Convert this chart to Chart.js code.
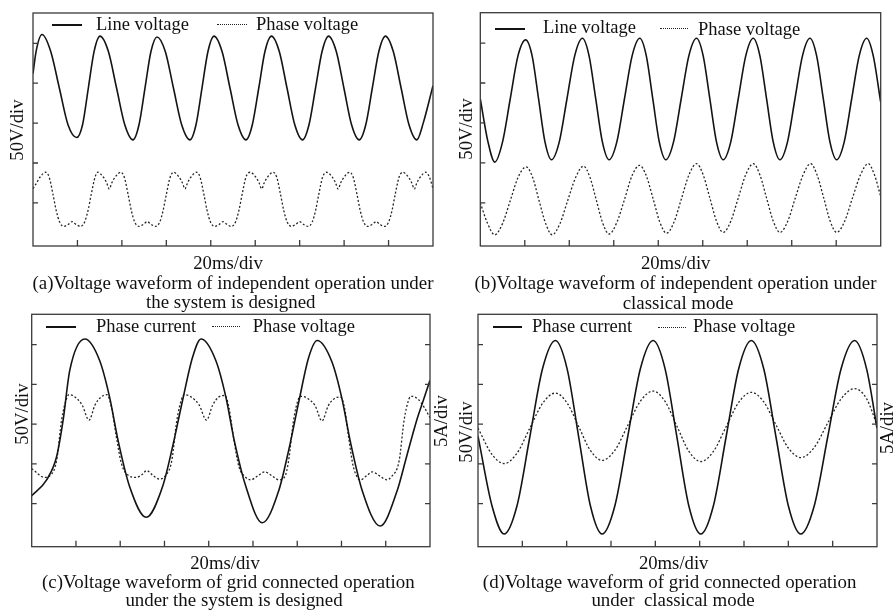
<!DOCTYPE html>
<html>
<head>
<meta charset="utf-8">
<title>Voltage waveforms</title>
<script src="https://cdn.jsdelivr.net/npm/chart.js@4.4.1/dist/chart.umd.min.js"></script>
<style>
html, body { margin: 0; padding: 0; background: #fff; overflow: hidden; }
#page { position: relative; width: 896px; height: 612px; overflow: hidden; font-family: 'Liberation Serif', 'Times New Roman', serif; color: #111; }
canvas { position: absolute; }
.key-line { position: absolute; height: 0; border-top: 2px solid #141414; }
.key-dots { position: absolute; height: 0; border-top: 1px dotted #222; }
.key-text { position: absolute; font-size: 18.5px; line-height: 18px; white-space: nowrap; }
.caption { position: absolute; width: 600px; text-align: center; font-size: 18.9px; line-height: 18.5px; white-space: pre; }
.x-title { position: absolute; width: 200px; height: 20px; line-height: 20px; text-align: center; font-size: 18.7px; white-space: nowrap; }
.y-title { position: absolute; width: 80px; height: 20px; line-height: 20px; text-align: center; font-size: 18.7px; white-space: nowrap; transform: rotate(-90deg); }
</style>
</head>
<body>
<div id="page">
  <canvas id="chartA" width="448" height="274" style="left:0;top:0"></canvas>
  <canvas id="chartB" width="448" height="275" style="left:448px;top:0"></canvas>
  <canvas id="chartC" width="460" height="275" style="left:0;top:300px"></canvas>
  <canvas id="chartD" width="460" height="275" style="left:448px;top:300px"></canvas>

  <!-- axis titles (the 5A/div ones read upwards too, like the original) -->
  <div class="y-title" style="left:-23px;top:119.5px">50V/div</div>
  <div class="x-title" style="left:128px;top:252.5px">20ms/div</div>
  <div class="y-title" style="left:425.5px;top:118.5px">50V/div</div>
  <div class="x-title" style="left:575.7px;top:253px">20ms/div</div>
  <div class="y-title" style="left:-18.3px;top:404px">50V/div</div>
  <div class="y-title" style="left:400.8px;top:411px">5A/div</div>
  <div class="x-title" style="left:125px;top:553.3px">20ms/div</div>
  <div class="y-title" style="left:425.8px;top:422px">50V/div</div>
  <div class="y-title" style="left:847.2px;top:418px">5A/div</div>
  <div class="x-title" style="left:573.7px;top:553.3px">20ms/div</div>

  <!-- legends sit inside the plot boxes, as on the scope captures -->
  <div class="key-line" style="left:52px;top:24px;width:30px"></div>
  <div class="key-text" style="left:96px;top:15.3px">Line voltage</div>
  <div class="key-dots" style="left:217px;top:24px;width:30px"></div>
  <div class="key-text" style="left:256px;top:15.3px">Phase voltage</div>

  <div class="key-line" style="left:494.7px;top:28.3px;width:30px"></div>
  <div class="key-text" style="left:543px;top:17.7px">Line voltage</div>
  <div class="key-dots" style="left:659.7px;top:28px;width:28.3px"></div>
  <div class="key-text" style="left:698px;top:19.7px">Phase voltage</div>

  <div class="key-line" style="left:46px;top:325.7px;width:30px"></div>
  <div class="key-text" style="left:96px;top:317px">Phase current</div>
  <div class="key-dots" style="left:211.7px;top:326.2px;width:28.3px"></div>
  <div class="key-text" style="left:252.7px;top:317px">Phase voltage</div>

  <div class="key-line" style="left:493px;top:326px;width:29px"></div>
  <div class="key-text" style="left:532px;top:317px">Phase current</div>
  <div class="key-dots" style="left:658px;top:326.5px;width:28px"></div>
  <div class="key-text" style="left:693px;top:317px">Phase voltage</div>

  <div class="caption" style="left:-67px;top:274px">(a)Voltage waveform of independent operation under</div>
  <div class="caption" style="left:-69.2px;top:293.4px">the system is designed</div>
  <div class="caption" style="left:375.5px;top:274px">(b)Voltage waveform of independent operation under</div>
  <div class="caption" style="left:378px;top:294px">classical mode</div>
  <div class="caption" style="left:-71.7px;top:573px">(c)Voltage waveform of grid connected operation</div>
  <div class="caption" style="left:-66px;top:591.4px">under the system is designed</div>
  <div class="caption" style="left:369.7px;top:573px">(d)Voltage waveform of grid connected operation</div>
  <div class="caption" style="left:373px;top:590.5px">under  classical mode</div>
</div>

<script>
// tick marks: 20 ms/div across, 50 V/div and 5 A/div up
var xTicks = [20, 40, 60, 80, 100, 120, 140, 160];
var voltTicks = [50, 100, 150, 200, 250];
var ampTicks = [-10, -5, 0, 5, 10];

// (a) independent operation, designed system (time ms, volts)
var aLineT = [0, 1.4, 4.05, 7.95, 11.85, 15.75, 19.67, 22.3, 24.9, 27.5, 30.15,
  33.9, 37.6, 41.3, 45.0, 47.7, 50.4, 53.1, 55.8, 59.5, 63.2, 66.9, 70.65,
  73.35, 76.05, 78.75, 81.45, 85.05, 88.65, 92.25, 95.85, 98.7, 101.6, 104.4, 107.3,
  110.8, 114.3, 117.8, 121.3, 124.2, 127.15, 130.1, 133.0, 136.45, 139.9, 143.35, 146.8,
  149.75, 152.7, 155.65, 158.6, 162.1, 165.65, 169.2, 172.7, 175.6, 180];
var aLineV = [212, 240, 261, 240, 194, 148, 132, 148, 194, 240, 259,
  240, 194, 148, 129, 148, 194, 240, 258, 240, 194, 148, 129,
  148, 194, 240, 259, 240, 194, 148, 129, 148, 194, 240, 259,
  240, 194, 148, 129, 148, 194, 240, 259, 240, 194, 148, 129,
  148, 194, 240, 259, 240, 194, 148, 129, 150, 197];
var aPhaseT = [0, 1.63, 3.2, 5.68, 7.25, 9.05, 10.4, 11.98, 13.87, 15.8, 17.6, 19.4, 21.34, 23.23, 24.8, 26.15, 27.95,
  29.12, 31.6, 33.17, 34.3, 35.43, 37.0, 39.48, 41.05, 42.85, 44.2, 45.78, 47.67, 49.6, 51.4, 53.2, 55.14, 57.03, 58.6, 59.95, 61.75,
  63.22, 65.7, 67.27, 68.4, 69.53, 71.1, 73.58, 75.15, 76.95, 78.3, 79.88, 81.77, 83.7, 85.5, 87.3, 89.24, 91.13, 92.7, 94.05, 95.85,
  97.72, 100.2, 101.77, 102.9, 104.03, 105.6, 108.08, 109.65, 111.45, 112.8, 114.38, 116.27, 118.2, 120.0, 121.8, 123.74, 125.63, 127.2, 128.55, 130.35,
  132.12, 134.6, 136.17, 137.3, 138.43, 140.0, 142.48, 144.05, 145.85, 147.2, 148.78, 150.67, 152.6, 154.4, 156.2, 158.14, 160.03, 161.6, 162.95, 164.75,
  166.42, 168.9, 170.47, 171.6, 172.73, 174.3, 176.78, 178.35, 180];
var aPhaseV = [68, 75, 82.5, 88.4, 82.5, 60, 41, 26, 20.6, 23, 26.5, 23, 20.6, 26, 41, 60, 82.5,
  88.4, 82.5, 75, 67.5, 75, 82.5, 88.4, 82.5, 60, 41, 26, 20.6, 23, 26.5, 23, 20.6, 26, 41, 60, 82.5,
  88.4, 82.5, 75, 67.5, 75, 82.5, 88.4, 82.5, 60, 41, 26, 20.6, 23, 26.5, 23, 20.6, 26, 41, 60, 82.5,
  88.4, 82.5, 75, 67.5, 75, 82.5, 88.4, 82.5, 60, 41, 26, 20.6, 23, 26.5, 23, 20.6, 26, 41, 60, 82.5,
  88.4, 82.5, 75, 67.5, 75, 82.5, 88.4, 82.5, 60, 41, 26, 20.6, 23, 26.5, 23, 20.6, 26, 41, 60, 82.5,
  88.4, 82.5, 75, 67.5, 75, 82.5, 88.4, 82.5, 68];

// (b) independent operation, classical mode
var bLineT = [0, 3.4, 6.5, 9.98, 13.45, 16.93, 20.4, 23.3, 26.2, 29.1, 32.0, 35.48, 38.95, 42.43, 45.9,
  48.9, 51.9, 54.9, 57.9, 61.35, 64.8, 68.25, 71.7, 74.63, 77.55, 80.48, 83.4, 86.85, 90.3, 93.75, 97.2,
  100.2, 103.2, 106.2, 109.2, 112.58, 115.95, 119.33, 122.7, 125.7, 128.7, 131.7, 134.7, 138.08, 141.45, 144.83, 148.2,
  151.2, 154.2, 157.2, 160.2, 163.58, 166.95, 170.33, 173.7, 176.65, 180];
var bLineV = [180, 127, 101, 126, 180, 234, 254, 234, 180, 126, 104, 126, 180, 234, 256,
  234, 180, 126, 104, 126, 180, 234, 256, 234, 180, 126, 104, 126, 180, 234, 256,
  234, 180, 126, 104, 126, 180, 234, 256, 234, 180, 126, 104, 126, 180, 234, 256,
  234, 180, 126, 104, 126, 180, 234, 256, 234, 176];
var bPhaseT = [0, 3.3, 6.5, 9.98, 13.5, 17.0, 20.6, 23.5, 26.4, 29.4, 32.3, 35.8, 39.3, 42.9, 46.4,
  49.3, 52.1, 55.0, 57.9, 61.3, 64.8, 68.2, 71.6, 74.6, 77.7, 80.7, 83.7, 87.1, 90.4, 93.8, 97.2,
  100.2, 103.2, 106.2, 109.2, 112.6, 115.95, 119.3, 122.7, 125.7, 128.7, 131.7, 134.7, 138.2, 141.6, 145.1, 148.5,
  151.4, 154.4, 157.3, 160.2, 163.8, 167.3, 170.9, 174.4, 177.2, 180];
var bPhaseV = [50, 24, 10, 24, 53, 82, 95, 82, 53, 24, 10, 24, 53, 82, 96,
  82, 54, 25, 11, 25, 54, 84, 97, 84, 55, 26, 12, 26, 55, 85, 99,
  85, 56, 27, 13, 27, 56, 85, 99, 85, 56, 27, 13, 27, 56, 85, 99,
  85, 56, 27, 13, 27, 56, 85, 99, 85, 58];

// (c) grid connected, designed system (current in A on the right axis)
var cCurT = [0, 6.75, 11.25, 14.2, 17.2, 24.0, 30.7, 35.2, 39.0, 44.2, 51.75,
  59.2, 63.7, 68.2, 72.7, 76.5, 83.2, 87.75, 91.5, 96.75, 104.2,
  111.7, 116.2, 120.7, 125.2, 129.0, 135.7, 140.2, 144.0, 149.2, 157.5,
  165.0, 169.5, 174.0, 177.0, 180];
var cCurA = [-9.0, -7.0, -4.1, 0.5, 6.75, 10.7, 8.0, 3.4, -2.0, -7.8, -11.7,
  -7.8, -2.8, 3.0, 8.4, 10.7, 8.0, 3.4, -2.0, -7.8, -12.4,
  -8.3, -3.2, 2.8, 8.4, 10.5, 7.8, 3.2, -2.2, -8.2, -12.8,
  -8.5, -4.0, 0.5, 3.0, 5.5];
var cPhaseT = [0, 6.0, 8.2, 11.25, 13.5, 15.75, 16.9,
  19.6, 22.8, 25.9, 28.6, 31.3, 34.0, 36.0, 38.25, 40.5, 43.5, 47.25, 49.6, 52.0, 54.6, 57.7, 60.4, 63.3, 65.6, 67.8, 69.0,
  72.1, 75.7, 79.0, 81.8, 84.5, 87.3, 89.2, 91.5, 93.7, 96.4, 99.0, 102.15, 105.3, 108.6, 111.7, 114.4, 116.1, 118.35, 120.6, 121.8,
  124.9, 128.1, 131.2, 134.0, 136.7, 139.5, 141.4, 143.2, 145.0, 146.6, 148.5, 151.3, 154.0, 157.2, 160.5, 162.6, 166.05, 168.3, 170.55, 171.7,
  174.7, 177.4, 180];
var cPhaseV = [94, 83, 85, 104, 155, 182, 187,
  184, 174, 155, 174, 184, 187, 172, 134, 101, 86, 83, 86, 91.6, 86, 81, 85, 104, 155, 182, 187,
  184, 174, 155, 174, 184, 186, 170, 128, 96, 84, 80, 85, 90, 85, 80, 84, 104, 155, 182, 185,
  182, 173, 154, 173, 182, 184, 170, 134, 101, 86, 80, 85, 90, 85, 80, 84, 104, 155, 182, 185,
  181, 171, 158];

// (d) grid connected, classical mode
var dTime = [0, 6.3, 11.8, 17.6, 23.35, 29.1, 34.9, 40.2, 45.45, 50.7, 56.0,
  61.75, 67.5, 73.25, 79.0, 84.4, 89.75, 95.1, 100.5, 106.2, 111.9, 117.6, 123.3,
  128.9, 134.45, 140.0, 145.6, 151.7, 157.75, 163.8, 169.9, 175.3, 180];
var dCurA = [-1.5, -10.25, -13.8, -10.25, -1.65, 6.95, 10.5, 6.95, -1.65, -10.25, -13.8,
  -10.25, -1.65, 6.95, 10.5, 6.95, -1.65, -10.25, -13.8, -10.25, -1.65, 6.95, 10.5,
  6.95, -1.65, -10.25, -13.8, -10.25, -1.65, 6.95, 10.5, 6.95, -0.5];
var dPhaseV = [145, 112, 100.5, 113.5, 144.8, 176, 189, 176.6, 146.8, 116.9, 104.5,
  117.2, 148, 178.8, 191.5, 178.5, 147.3, 116, 103, 115.7, 146.5, 177.3, 190,
  178, 149, 120, 108, 120.7, 151.3, 181.8, 194.5, 182, 149];

function pairs(t, v) {
  return t.map(function(x, i) { return {x: x, y: v[i]}; });
}

function solid(t, v, axis) {
  return {data: pairs(t, v), yAxisID: axis || 'y', borderColor: '#141414', borderWidth: 1.6};
}

function dotted(t, v, axis) {
  return {data: pairs(t, v), yAxisID: axis || 'y', borderColor: '#262626', borderWidth: 1.3, borderDash: [2, 2]};
}

// box round the plot and short inward ticks, like the scope screen
var scopeFrame = {
  id: 'scopeFrame',
  afterDatasetsDraw: function(chart) {
    var ctx = chart.ctx, a = chart.chartArea, s = chart.scales;
    ctx.save();
    ctx.strokeStyle = '#3a3a3a';
    ctx.lineWidth = 1.3;
    ctx.strokeRect(a.left, a.top, a.right - a.left, a.bottom - a.top);
    ctx.beginPath();
    xTicks.forEach(function(v) {
      var x = s.x.getPixelForValue(v);
      ctx.moveTo(x, a.bottom); ctx.lineTo(x, a.bottom - 6);
    });
    voltTicks.forEach(function(v) {
      var y = s.y.getPixelForValue(v);
      ctx.moveTo(a.left, y); ctx.lineTo(a.left + 5, y);
    });
    if (s.y1) {
      ampTicks.forEach(function(v) {
        var y = s.y1.getPixelForValue(v);
        ctx.moveTo(a.right, y); ctx.lineTo(a.right - 5, y);
      });
    }
    ctx.stroke();
    ctx.restore();
  }
};

function hiddenAxis(extra) {
  var axis = {grid: {display: false, drawTicks: false}, border: {display: false}, ticks: {display: false}};
  for (var k in extra) axis[k] = extra[k];
  return axis;
}

// titles are set in the page, so the padding alone places the plot box
function scopeChart(canvasId, datasets, pad, withAmps) {
  var scales = {
    x: hiddenAxis({type: 'linear', min: 0, max: 180}),
    y: hiddenAxis({position: 'left', min: -4, max: 288})
  };
  if (withAmps) {
    scales.y1 = hiddenAxis({position: 'right', min: -15.4, max: 13.8});
  }
  return new Chart(document.getElementById(canvasId), {
    type: 'line',
    data: {datasets: datasets},
    options: {
      responsive: false,
      animation: false,
      events: [],
      layout: {padding: pad},
      elements: {point: {radius: 0}, line: {cubicInterpolationMode: 'monotone'}},
      plugins: {legend: {display: false}, tooltip: {enabled: false}},
      scales: scales
    },
    plugins: [scopeFrame]
  });
}

scopeChart('chartA', [solid(aLineT, aLineV), dotted(aPhaseT, aPhaseV)],
  {top: 13, left: 33, right: 15, bottom: 28});

scopeChart('chartB', [solid(bLineT, bLineV), dotted(bPhaseT, bPhaseV)],
  {top: 12.7, left: 32.3, right: 15.3, bottom: 29});

scopeChart('chartC', [solid(cCurT, cCurA, 'y1'), dotted(cPhaseT, cPhaseV)],
  {top: 14.3, left: 31.7, right: 30, bottom: 28.3}, true);

scopeChart('chartD', [solid(dTime, dCurA, 'y1'), dotted(dTime, dPhaseV)],
  {top: 14.3, left: 30, right: 31, bottom: 28.3}, true);
</script>
</body>
</html>
